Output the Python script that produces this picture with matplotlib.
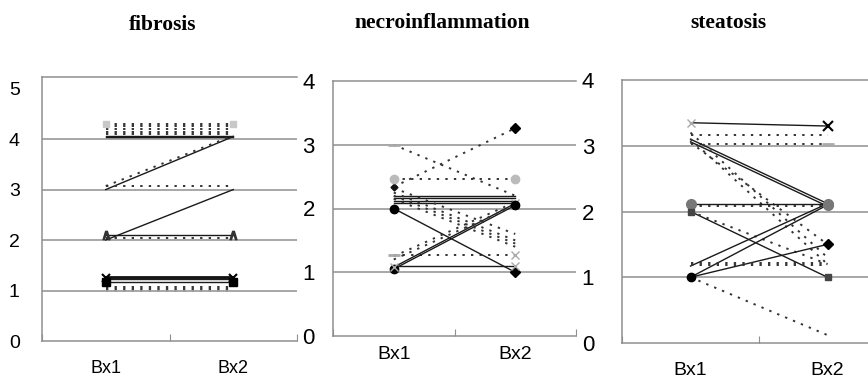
import matplotlib.pyplot as plt

# data (Bx1 -> Bx2 per patient line)
categories = ['Bx1', 'Bx2']

fib_bx1 = [4.30, 4.25, 4.20, 4.15, 4.10, 4.07, 4.04, 3.00, 3.07, 3.08, 2.00, 2.10, 2.04,
           1.27, 1.22, 1.17, 1.25, 1.07, 1.03, 1.00]
fib_bx2 = [4.30, 4.25, 4.20, 4.15, 4.10, 4.07, 4.04, 4.05, 4.07, 3.08, 3.00, 2.10, 2.04,
           1.27, 1.22, 1.17, 1.25, 1.07, 1.03, 1.00]
fib_style = ['dot', 'dot', 'dot', 'dot', 'dot', 'solid', 'solid', 'solid', 'dot', 'dot',
             'solid', 'solid', 'dot', 'heavy', 'solid', 'solid', 'solid', 'dot', 'dot', 'ldot']
fib_mark1 = ['lsq', None, None, None, None, None, None, None, None, None,
             None, 'caret', None, None, None, 'bsq', 'bx', None, None, None]
fib_mark2 = fib_mark1

nec_bx1 = [2.34, 3.00, 2.47, 1.27, 2.20, 2.16, 2.12, 2.08, 2.00, 1.05, 1.08, 1.10,
           2.32, 2.25, 2.20, 2.15, 1.20, 1.25]
nec_bx2 = [3.26, 2.20, 2.47, 1.27, 2.20, 2.16, 2.12, 2.08, 1.00, 2.05, 2.08, 1.10,
           1.60, 1.50, 1.45, 1.40, 2.05, 2.10]
nec_style = ['dot', 'dot', 'dot', 'dot', 'solid', 'solid', 'solid', 'solid', 'solid', 'solid',
             'solid', 'solid', 'dot', 'dot', 'dot', 'dot', 'dot', 'dot']
nec_mark1 = ['bsm', 'ldash', 'lcirc', 'ldash', None, None, None, None, 'bcirc', 'bcirc',
             'lx', None, None, None, None, None, None, None]
nec_mark2 = ['bdia', None, 'lcirc', 'lx', None, None, None, 'lx', 'bdia', 'bcirc',
             None, 'lx', None, None, None, None, None, None]

ste_bx1 = [3.35, 3.17, 3.03, 3.10, 3.06, 3.20, 3.10, 3.05, 2.12, 2.08, 2.00, 2.00,
           1.00, 1.17, 1.00, 1.22, 1.18, 1.00]
ste_bx2 = [3.30, 3.17, 3.03, 2.12, 2.08, 1.30, 1.20, 1.50, 2.12, 2.08, 1.00, 1.20,
           2.10, 2.12, 1.50, 1.22, 1.18, 0.12]
ste_style = ['solid', 'dot', 'dot', 'solid', 'solid', 'dot', 'dot', 'dot', 'solid', 'dot',
             'solid', 'dot', 'solid', 'solid', 'solid', 'dot', 'dot', 'dot']
ste_mark1 = ['lx', None, None, None, None, None, None, None, 'gcirc', None,
             'dsq', None, 'bcirc', None, None, None, None, None]
ste_mark2 = ['star', None, 'ldash', None, None, None, None, None, 'gcirc', None,
             'dsq', None, 'gcirc', None, 'bdia', None, None, None]

titles = ['fibrosis', 'necroinflammation', 'steatosis']

W, H = 868, 385
fig = plt.figure(figsize=(W / 100, H / 100), dpi=100)

line_kw = {
    'solid': dict(color='#1a1a1a', lw=1.0, ls='-'),
    'heavy': dict(color='#111111', lw=2.0, ls='-'),
    'dot': dict(color='#333333', lw=1.4, ls=(0, (1.2, 3.2))),
    'ldot': dict(color='#999999', lw=1.4, ls=(0, (1.2, 3.2))),
}
mark_kw = {
    'lsq': dict(marker='s', color='#c8c8c8', ms=5),
    'caret': dict(marker='$\\wedge$', color='#333333', ms=6),
    'bsq': dict(marker='s', color='#000000', ms=6),
    'bx': dict(marker='x', color='#000000', ms=6, mew=1.5),
    'bdia': dict(marker='D', color='#000000', ms=5),
    'bsm': dict(marker='D', color='#111111', ms=3.5),
    'ldash': dict(marker='_', color='#aaaaaa', ms=8, mew=2),
    'lcirc': dict(marker='o', color='#bbbbbb', ms=6),
    'lx': dict(marker='x', color='#aaaaaa', ms=6),
    'bcirc': dict(marker='o', color='#000000', ms=6),
    'gcirc': dict(marker='o', color='#777777', ms=7),
    'dsq': dict(marker='s', color='#444444', ms=5),
    'star': dict(marker='x', color='#000000', ms=7, mew=1.5),
}

# panel boxes in pixels: left, right, top, bottom
boxes = [(42, 297, 77, 341), (333, 576, 81, 336), (622, 896, 80, 343)]
ymax = [5.23, 4, 4]
yticks = [range(6), range(5), range(5)]
ypad = [16, 13, 20]
xpad = [14, 7, 14]
ysize = [14, 16, 16]
xsize = [13, 14, 14]
title_pos = [(163, 25), (442, 23), (728, 23)]
panels = [(fib_bx1, fib_bx2, fib_style, fib_mark1, fib_mark2),
          (nec_bx1, nec_bx2, nec_style, nec_mark1, nec_mark2),
          (ste_bx1, ste_bx2, ste_style, ste_mark1, ste_mark2)]

grid_col = '#8f8f8f'
for i, (b1, b2, st, mk1, mk2) in enumerate(panels):
    l, r, t, b = boxes[i]
    ax = fig.add_axes([l / W, (H - b) / H, (r - l) / W, (b - t) / H])
    ax.set_xlim(0, 2)
    ax.set_ylim(0, ymax[i])
    for g in range(1, 5):
        if g < ymax[i]:
            ax.axhline(g, color=grid_col, lw=1.1, zorder=0)
    for sp in ['left', 'bottom', 'top']:
        ax.spines[sp].set_color(grid_col)
        ax.spines[sp].set_linewidth(1.1)
    ax.spines['right'].set_visible(False)

    for v1, v2, s, m1, m2 in zip(b1, b2, st, mk1, mk2):
        ax.plot([0.5, 1.5], [v1, v2], **line_kw[s], zorder=2)
        if m1 is not None:
            ax.plot([0.5], [v1], ls='none', zorder=3, **mark_kw[m1])
        if m2 is not None:
            ax.plot([1.5], [v2], ls='none', zorder=3, **mark_kw[m2])

    ax.set_yticks(list(yticks[i]))
    ax.set_yticklabels([str(v) for v in yticks[i]], family='Liberation Sans', fontsize=ysize[i])
    ax.tick_params(axis='y', length=0, pad=ypad[i])
    ax.set_xticks([0, 1, 2])
    ax.set_xticklabels([])
    ax.tick_params(axis='x', which='major', direction='in', length=5, color=grid_col)
    ax.set_xticks([0.5, 1.5], minor=True)
    ax.set_xticklabels(categories, minor=True, family='Liberation Sans', fontsize=xsize[i])
    ax.tick_params(axis='x', which='minor', length=0, pad=xpad[i])

    tx, ty = title_pos[i]
    fig.text(tx / W, 1 - ty / H, titles[i], ha='center', va='center',
             family='Liberation Serif', fontweight='bold', fontsize=15.5)

fig.savefig('out.png', dpi=100)
